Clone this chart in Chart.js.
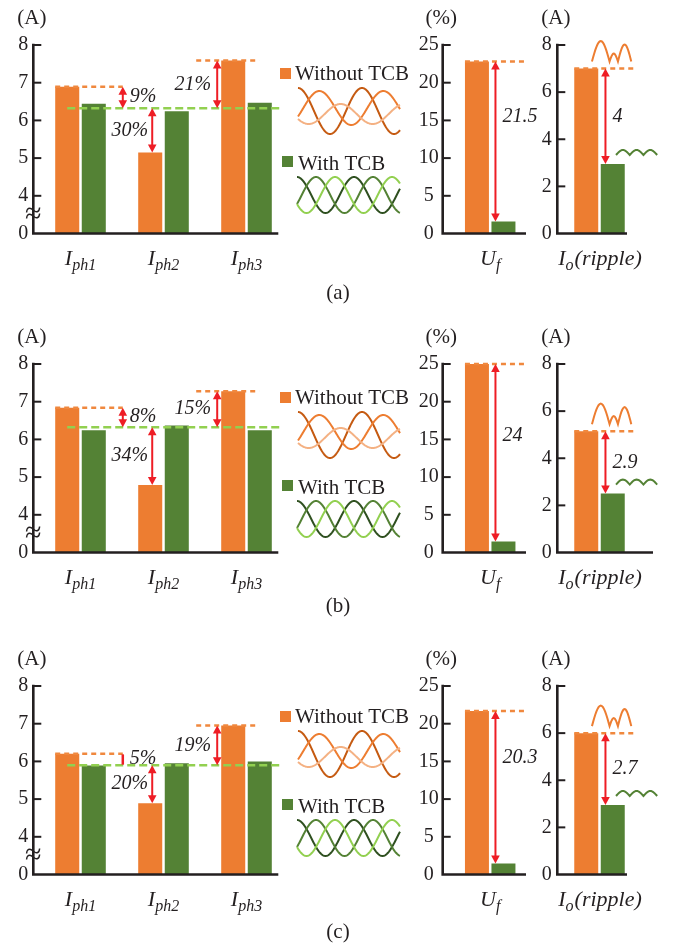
<!DOCTYPE html>
<html>
<head>
<meta charset="utf-8">
<title>Without / With TCB</title>
<script src="https://cdn.jsdelivr.net/npm/chart.js@4.4.1/dist/chart.umd.min.js"></script>
<style>
  html, body { margin: 0; padding: 0; background: #fff; }
  body { position: relative; width: 678px; height: 945px; overflow: hidden; }
  canvas { position: absolute; }
</style>
</head>
<body>
<script>
// ---- values ----
const phaseNames = ['ph1', 'ph2', 'ph3'];
const rowCaptions = ['(a)', '(b)', '(c)'];

// phase currents I_ph (A)
const iphWithoutA = [6.89, 5.15, 7.59];
const iphWithA    = [6.44, 6.24, 6.47];
const iphWithoutB = [6.84, 4.79, 7.28];
const iphWithB    = [6.24, 6.37, 6.24];
const iphWithoutC = [6.20, 4.89, 6.95];
const iphWithC    = [5.89, 5.95, 6.00];
// green dashed reference level (A) for cases a, b, c
const iphLevel = [6.32, 6.32, 5.90];
// unbalance notes
const iphNotesA = ['9%', '30%', '21%'];
const iphNotesB = ['8%', '34%', '15%'];
const iphNotesC = ['5%', '20%', '19%'];
// broken axis: the floor (3) is labelled 0
const iphTickLabels = ['0', '4', '5', '6', '7', '8'];

// U_f (%) for cases a, b, c
const ufWithout = [22.8, 25.0, 21.7];
const ufWith    = [1.6, 1.45, 1.45];
const ufNotes   = ['21.5', '24', '20.3'];
const ufTickLabels = ['0', '5', '10', '15', '20', '25'];

// I_o ripple (A) for cases a, b, c
const ioWithout = [7.0, 5.15, 6.0];
const ioWith    = [2.95, 2.5, 2.95];
const ioNotes   = ['4', '2.9', '2.7'];
const ioTickLabels = ['0', '2', '4', '6', '8'];

const iphWithout = [iphWithoutA, iphWithoutB, iphWithoutC];
const iphWith = [iphWithA, iphWithB, iphWithC];
const iphNotes = [iphNotesA, iphNotesB, iphNotesC];

// ---- style ----
const SERIF = '"Liberation Serif", "DejaVu Serif", serif';
const INK = '#231f20';
const ORANGE = '#ED7D31';
const ORANGE_DASH = '#F0883E';
const GREEN = '#548235';
const LIGHT_GREEN = '#92D050';
const RED = '#EE1D25';

Chart.defaults.font.family = SERIF;
Chart.defaults.font.size = 20;
Chart.defaults.color = INK;

const rowTop = [0, 319, 641];
const legendTop = [0, 324, 643];
const captionY = [293, 606, 932];

// ---- drawing helpers ----
function dashed(ctx, x1, x2, y, color, dash) {
  ctx.save();
  ctx.strokeStyle = color;
  ctx.lineWidth = 2.5;
  ctx.setLineDash(dash);
  ctx.beginPath();
  ctx.moveTo(x1, y);
  ctx.lineTo(x2, y);
  ctx.stroke();
  ctx.restore();
}

function arrow(ctx, x, ya, yb) {
  const t = Math.min(ya, yb), b = Math.max(ya, yb), h = 8, w = 4.3;
  ctx.save();
  ctx.strokeStyle = RED;
  ctx.fillStyle = RED;
  if (b - t < 15) {
    ctx.lineWidth = 2.5;
    ctx.beginPath();
    ctx.moveTo(x, t + 0.5);
    ctx.lineTo(x, b - 0.5);
    ctx.stroke();
    ctx.restore();
    return;
  }
  ctx.lineWidth = 2;
  ctx.beginPath();
  ctx.moveTo(x, t + h - 1);
  ctx.lineTo(x, b - h + 1);
  ctx.stroke();
  ctx.beginPath();
  ctx.moveTo(x, t); ctx.lineTo(x - w, t + h); ctx.lineTo(x + w, t + h);
  ctx.closePath(); ctx.fill();
  ctx.beginPath();
  ctx.moveTo(x, b); ctx.lineTo(x - w, b - h); ctx.lineTo(x + w, b - h);
  ctx.closePath(); ctx.fill();
  ctx.restore();
}

function note(ctx, text, x, y, align) {
  ctx.save();
  ctx.font = 'italic 20px ' + SERIF;
  ctx.fillStyle = INK;
  ctx.textAlign = align;
  ctx.textBaseline = 'middle';
  ctx.fillText(text, x, y);
  ctx.restore();
}

function subLabel(ctx, cx, base, main, sub, tail) {
  ctx.save();
  ctx.fillStyle = INK;
  ctx.textBaseline = 'alphabetic';
  ctx.textAlign = 'left';
  const big = 'italic 22px ' + SERIF, small = 'italic 16px ' + SERIF;
  ctx.font = big;
  const w1 = ctx.measureText(main).width, w3 = ctx.measureText(tail).width;
  ctx.font = small;
  const w2 = ctx.measureText(sub).width;
  let x = cx - (w1 + w2 + w3) / 2;
  ctx.font = big; ctx.fillText(main, x, base);
  ctx.font = small; ctx.fillText(sub, x + w1, base + 5);
  ctx.font = big; ctx.fillText(tail, x + w1 + w2 + 1, base);
  ctx.restore();
}

// little rectified-ripple icons
function humps(ctx, x0, base, spec, color) {
  ctx.save();
  ctx.strokeStyle = color;
  ctx.lineWidth = 2;
  ctx.beginPath();
  ctx.moveTo(x0, base);
  let x = x0;
  spec.forEach(([w, h]) => {
    for (let i = 1; i <= 16; i++) {
      const t = i / 16;
      ctx.lineTo(x + t * w, base - h * Math.sin(Math.PI * t));
    }
    x += w;
  });
  ctx.stroke();
  ctx.restore();
}

const left = b => b.x - b.width / 2;
const right = b => b.x + b.width / 2;

function phaseNotes(chart, r) {
  const ctx = chart.ctx, y = chart.scales.y;
  const o = chart.getDatasetMeta(0).data, g = chart.getDatasetMeta(1).data;
  const yAvg = y.getPixelForValue(iphLevel[r]);
  const ax1 = right(g[0]) + 17, ax2 = o[1].x + 2, ax3 = left(o[2]) - 4;
  dashed(ctx, left(o[0]), ax1, o[0].y, ORANGE_DASH, [5, 4]);
  dashed(ctx, left(o[2]) - 25, right(o[2]) + 14, o[2].y, ORANGE_DASH, [5, 4]);
  dashed(ctx, o[0].x, right(g[2]) + 10, yAvg, LIGHT_GREEN, [8, 4]);
  arrow(ctx, ax1, o[0].y, yAvg);
  arrow(ctx, ax2, yAvg, o[1].y);
  arrow(ctx, ax3, o[2].y, yAvg);
  const n = iphNotes[r];
  note(ctx, n[0], ax1 + 7, (o[0].y + yAvg) / 2 - 1, 'left');
  note(ctx, n[1], ax2 - 4, (yAvg + o[1].y) / 2, 'right');
  note(ctx, n[2], ax3 - 6, (o[2].y + yAvg) / 2, 'right');
}

function ufNotesDraw(chart, r) {
  const ctx = chart.ctx, y = chart.scales.y;
  const o = chart.getDatasetMeta(0).data[0], g = chart.getDatasetMeta(1).data[0];
  dashed(ctx, left(o), left(o) + 60, o.y, ORANGE_DASH, [5, 4]);
  const ax = left(g) + 4;
  arrow(ctx, ax, o.y, g.y);
  note(ctx, ufNotes[r], ax + 7, y.getPixelForValue(15.5), 'left');
}

function ioNotesDraw(chart, r) {
  const ctx = chart.ctx;
  const o = chart.getDatasetMeta(0).data[0], g = chart.getDatasetMeta(1).data[0];
  dashed(ctx, left(o), left(o) + 59, o.y, ORANGE_DASH, [5, 4]);
  const ax = left(g) + 4.7;
  arrow(ctx, ax, o.y, g.y);
  note(ctx, ioNotes[r], ax + 7, (o.y + g.y) / 2, 'left');
  humps(ctx, left(o) + 17.7, o.y - 7, [[17.6, 20.5], [8.4, 8], [13.3, 17]], ORANGE);
  humps(ctx, right(g) - 8.7, g.y - 9, [[13.7, 5], [13.7, 5], [13.7, 5]], GREEN);
}

function makeChart(cfg) {
  const cv = document.createElement('canvas');
  cv.width = cfg.w; cv.height = cfg.h;
  cv.style.left = cfg.left + 'px';
  cv.style.top = cfg.top + 'px';
  cv.style.width = cfg.w + 'px';
  cv.style.height = cfg.h + 'px';
  document.body.appendChild(cv);

  const decor = {
    id: 'decor',
    afterDatasetsDraw(chart) {
      const ctx = chart.ctx, a = chart.chartArea, y = chart.scales.y;
      ctx.save();
      ctx.strokeStyle = INK;
      // axis lines
      ctx.lineWidth = 2.6;
      ctx.beginPath();
      ctx.moveTo(cfg.axisX, a.top - 1.3);
      ctx.lineTo(cfg.axisX, a.bottom);
      ctx.lineTo(cfg.axisEnd, a.bottom);
      ctx.stroke();
      // inward tick marks
      ctx.lineWidth = 2;
      y.ticks.forEach(t => {
        if (t.value === y.min) return;
        const py = y.getPixelForValue(t.value);
        ctx.beginPath();
        ctx.moveTo(cfg.axisX, py);
        ctx.lineTo(cfg.axisX + 8, py);
        ctx.stroke();
      });
      // axis break mark
      if (cfg.brk) {
        ctx.font = '30px ' + SERIF;
        ctx.fillStyle = INK;
        ctx.textAlign = 'center';
        ctx.textBaseline = 'middle';
        const yb = (y.getPixelForValue(y.min) + y.getPixelForValue(y.min + 1)) / 2;
        ctx.fillText('\u2248', cfg.axisX, yb);
      }
      // unit
      ctx.font = '21px ' + SERIF;
      ctx.fillStyle = INK;
      ctx.textAlign = 'center';
      ctx.textBaseline = 'middle';
      ctx.fillText(cfg.unit, cfg.axisX - 1.5, a.top - 27);
      ctx.restore();

      cfg.notes(chart);

      // category labels
      const o = chart.getDatasetMeta(0).data, g = chart.getDatasetMeta(1).data;
      o.forEach((b, i) => {
        const [m, s, t] = cfg.xParts(i);
        subLabel(ctx, (left(b) + right(g[i])) / 2, a.bottom + 31, m, s, t);
      });
    }
  };

  return new Chart(cv, {
    type: 'bar',
    data: {
      labels: cfg.labels,
      datasets: [
        { label: 'Without TCB', data: cfg.without, backgroundColor: ORANGE },
        { label: 'With TCB', data: cfg.withTcb, backgroundColor: GREEN }
      ]
    },
    options: {
      responsive: false,
      animation: false,
      layout: { padding: { top: 45, right: cfg.padRight, bottom: cfg.h - 233.5, left: 0 } },
      datasets: { bar: { categoryPercentage: cfg.catPct, barPercentage: 0.905, borderWidth: 0 } },
      plugins: { legend: { display: false }, tooltip: { enabled: false } },
      scales: {
        x: { display: false },
        y: {
          min: cfg.min, max: cfg.max,
          grid: { display: false, drawTicks: false },
          border: { display: false },
          ticks: {
            stepSize: cfg.step,
            padding: cfg.tickPad,
            crossAlign: cfg.crossAlign,
            color: INK,
            font: { size: 20, family: SERIF },
            callback: (v, i) => cfg.tickLabels[i]
          },
          afterFit: s => { s.width = cfg.yWidth; }
        }
      }
    },
    plugins: [decor]
  });
}

// ---- background: legends and captions ----
const bg = document.createElement('canvas');
bg.width = 678; bg.height = 945;
bg.style.left = '0px'; bg.style.top = '0px';
bg.style.width = '678px'; bg.style.height = '945px';
document.body.appendChild(bg);
const bctx = bg.getContext('2d');

function waves(ctx, x0, x1, cy, period, amps, offs, colors) {
  colors.forEach((c, k) => {
    ctx.strokeStyle = c;
    ctx.lineWidth = 2;
    ctx.beginPath();
    for (let x = x0; x <= x1; x += 0.5) {
      const th = 2 * Math.PI * (x - x0) / period - k * 2 * Math.PI / 3;
      const yy = cy + offs[k] - amps[k] * Math.cos(th);
      if (x === x0) ctx.moveTo(x, yy); else ctx.lineTo(x, yy);
    }
    ctx.stroke();
  });
}

for (let r = 0; r < 3; r++) {
  const L = legendTop[r];
  bctx.fillStyle = ORANGE;
  bctx.fillRect(280, 68 + L, 11, 11);
  bctx.fillStyle = GREEN;
  bctx.fillRect(282, 156 + L, 11, 11);
  bctx.fillStyle = INK;
  bctx.font = '21px ' + SERIF;
  bctx.textAlign = 'left';
  bctx.textBaseline = 'alphabetic';
  bctx.fillText('Without TCB', 295, 80 + L);
  bctx.fillText('With TCB', 298, 170 + L);
  waves(bctx, 298, 400, 111 + L, 64, [23, 17, 10], [0, -3, 3], ['#C55A11', ORANGE, '#F4B183']);
  waves(bctx, 297, 400, 195 + L, 57, [18, 18, 18], [0, 0, 0], ['#2F5020', GREEN, LIGHT_GREEN]);

  bctx.textAlign = 'center';
  bctx.textBaseline = 'middle';
  bctx.fillText(rowCaptions[r], 338, captionY[r]);
}

// ---- the nine bar charts ----
for (let r = 0; r < 3; r++) {
  makeChart({
    left: 0, top: rowTop[r], w: 292, h: 290,
    yWidth: 39, padRight: 4, axisX: 33.3, axisEnd: 278.3, catPct: 0.64,
    labels: phaseNames, without: iphWithout[r], withTcb: iphWith[r],
    min: 3, max: 8, step: 1, tickLabels: iphTickLabels, tickPad: 10.7, crossAlign: 'near',
    unit: '(A)', brk: true,
    notes: c => phaseNotes(c, r),
    xParts: i => ['I', phaseNames[i], '']
  });
  makeChart({
    left: 400, top: rowTop[r], w: 140, h: 290,
    yWidth: 42.7, padRight: 2.3, axisX: 42.7, axisEnd: 126, catPct: 0.558,
    labels: ['Uf'], without: [ufWithout[r]], withTcb: [ufWith[r]],
    min: 0, max: 25, step: 5, tickLabels: ufTickLabels, tickPad: 4, crossAlign: 'center',
    unit: '(%)', brk: false,
    notes: c => ufNotesDraw(c, r),
    xParts: () => ['U', 'f', '']
  });
  makeChart({
    left: 530, top: rowTop[r], w: 148, h: 290,
    yWidth: 27.3, padRight: 36.3, axisX: 27.3, axisEnd: r === 1 ? 123 : 97, catPct: 0.628,
    labels: ['Io(ripple)'], without: [ioWithout[r]], withTcb: [ioWith[r]],
    min: 0, max: 8, step: 2, tickLabels: ioTickLabels, tickPad: 5.6, crossAlign: 'near',
    unit: '(A)', brk: false,
    notes: c => ioNotesDraw(c, r),
    xParts: () => ['I', 'o', '(ripple)']
  });
}
</script>
</body>
</html>
